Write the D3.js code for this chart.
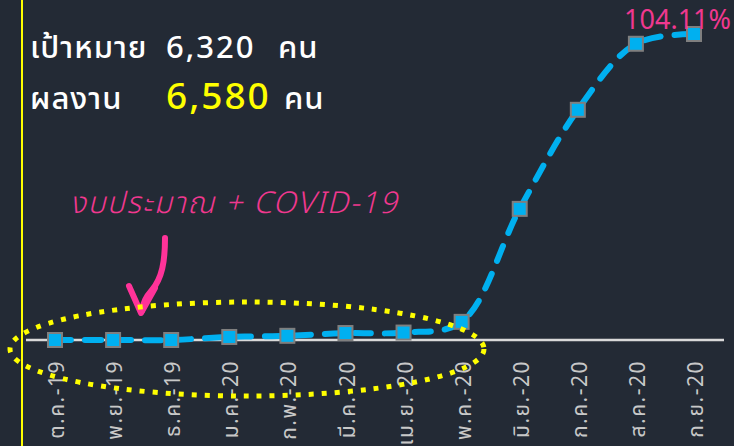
<!DOCTYPE html>
<html><head><meta charset="utf-8">
<script src="https://cdn.jsdelivr.net/npm/d3@7"></script>
<style>
html,body{margin:0;padding:0;background:#232a35;}
svg{display:block;}
text{font-family:"Noto Sans Thai","Noto Sans","DejaVu Sans",sans-serif;}
</style></head>
<body>
<script>
const categories = ["ต.ค.-19","พ.ย.-19","ธ.ค.-19","ม.ค.-20","ก.พ.-20","มี.ค.-20","เม.ย.-20","พ.ค.-20","มิ.ย.-20","ก.ค.-20","ส.ค.-20","ก.ย.-20"];
const results = [0, 0, 0, 65, 90, 150, 160, 390, 2820, 4950, 6370, 6580];
const target = 6320;
const headerLines = [["เป้าหมาย", "6,320", "คน"], ["ผลงาน", "6,580", "คน"]];
const percentLabel = "104.11%";
const noteText = "งบประมาณ + COVID-19";

const W = 734, H = 446;
const svg = d3.select("body").append("svg").attr("width", W).attr("height", H);
svg.append("rect").attr("width", W).attr("height", H).attr("fill", "#232a35");

// yellow left border
svg.append("line").attr("x1", 22).attr("x2", 22).attr("y1", 0).attr("y2", H)
  .attr("stroke", "#ffff00").attr("stroke-width", 2);

const x = d3.scalePoint().domain(categories).range([55, 694]);
const y = d3.scaleLinear().domain([0, 6580]).range([340, 34]);

// baseline axis
svg.append("line").attr("x1", 26).attr("x2", 724).attr("y1", y(0)).attr("y2", y(0))
  .attr("stroke", "#d9d9d9").attr("stroke-width", 2.5);

// x axis labels
const xAxis = d3.axisBottom(x).tickSize(0).tickPadding(0);
const gx = svg.append("g").attr("transform", `translate(0,${y(0)})`).call(xAxis);
gx.select(".domain").remove();
gx.selectAll("text")
  .attr("transform", "translate(1,20) rotate(-90)")
  .attr("text-anchor", "end")
  .attr("dy", "0.36em")
  .attr("x", 0).attr("y", 0)
  .attr("fill", "#c8c8c8")
  .style("font-size", "21px")
  .style("letter-spacing", "1.5px");

// line
const line = d3.line().x((d, i) => x(categories[i])).y(d => y(d)).curve(d3.curveCatmullRom);
svg.append("path").datum(results).attr("d", line)
  .attr("fill", "none").attr("stroke", "#00b0f0").attr("stroke-width", 6)
  .attr("stroke-linecap", "round").attr("stroke-dasharray", "16 14");

// markers
svg.selectAll("rect.m").data(results).join("rect").attr("class", "m")
  .attr("x", (d, i) => x(categories[i]) - 7).attr("y", d => y(d) - 7)
  .attr("width", 14).attr("height", 14)
  .attr("fill", "#00b0f0").attr("stroke", "#7f7f7f").attr("stroke-width", 2);

// percent label
svg.append("text").attr("x", 731).attr("y", 29).attr("text-anchor", "end")
  .attr("fill", "#f0388f").style("font-size", "27px").text(percentLabel);

// header
const h1 = svg.append("text").attr("x", 30).attr("y", 58).attr("fill", "#ffffff")
  .style("font-size", "31px").style("font-weight", "500").style("letter-spacing", "1px");
h1.append("tspan").text(headerLines[0][0]);
h1.append("tspan").attr("x", 166).style("letter-spacing", "2px").text(headerLines[0][1]);
h1.append("tspan").attr("x", 278).text(headerLines[0][2]);
const h2 = svg.append("text").attr("x", 30).attr("y", 109).attr("fill", "#ffffff")
  .style("font-size", "31px").style("font-weight", "500").style("letter-spacing", "1px");
h2.append("tspan").text(headerLines[1][0]);
h2.append("tspan").attr("x", 166).attr("fill", "#ffff00").style("font-size", "37px").style("letter-spacing", "2px").text(headerLines[1][1]);
h2.append("tspan").attr("x", 284).text(headerLines[1][2]);

// note
svg.append("text").attr("x", 70).attr("y", 213).attr("fill", "#f0388f")
  .style("font-size", "30px").style("font-style", "italic").style("font-weight", "300")
  .style("letter-spacing", "1.5px")
  .text(noteText);

// arrow
svg.append("path").attr("d", "M165,238 C165,262 162,278 152,290 C146,297 143,302 142,311")
  .attr("fill", "none").attr("stroke", "#ff3399").attr("stroke-width", 6).attr("stroke-linecap", "round");
svg.append("path").attr("d", "M129,286 L141,313 L155,288")
  .attr("fill", "none").attr("stroke", "#ff3399").attr("stroke-width", 6)
  .attr("stroke-linecap", "round").attr("stroke-linejoin", "round");

// dotted ellipse
svg.append("ellipse").attr("cx", 247).attr("cy", 349).attr("rx", 237).attr("ry", 47)
  .attr("fill", "none").attr("stroke", "#ffff00").attr("stroke-width", 5)
  .attr("stroke-dasharray", "5 8");
</script>
</body></html>
